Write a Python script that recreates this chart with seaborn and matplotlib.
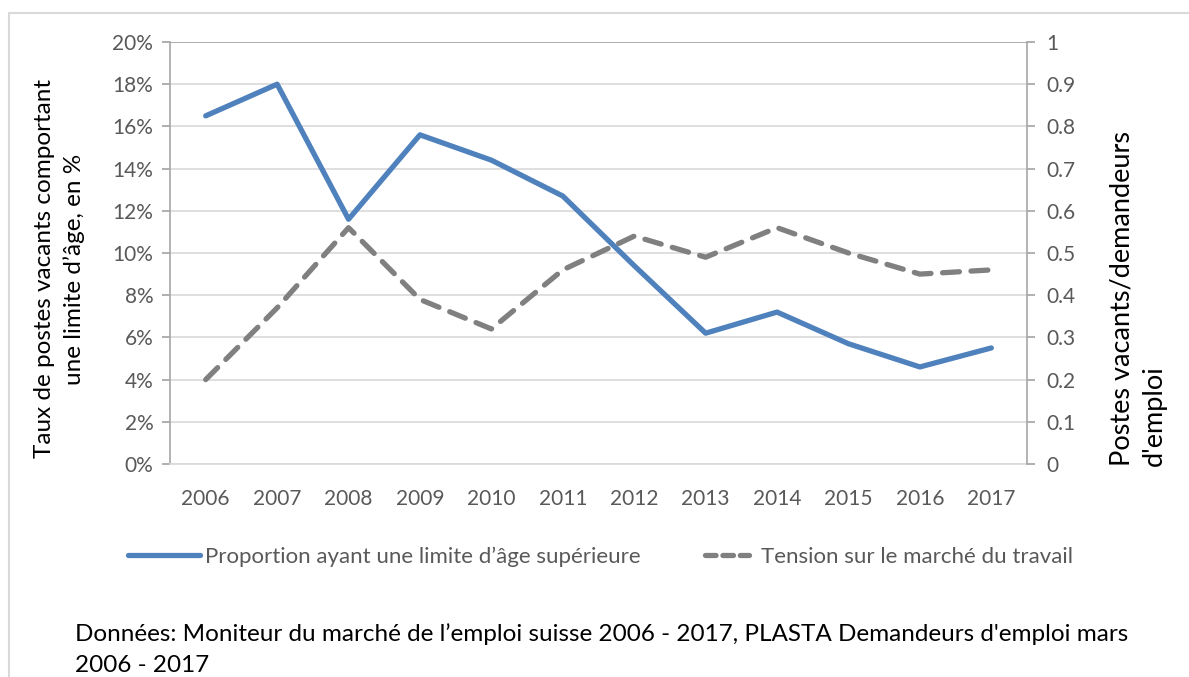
import pandas as pd
import seaborn as sns
from matplotlib import pyplot as plt
from matplotlib.ticker import PercentFormatter, MultipleLocator
from matplotlib.patches import Rectangle

years = ["2006", "2007", "2008", "2009", "2010", "2011",
         "2012", "2013", "2014", "2015", "2016", "2017"]
proportion = [16.5, 18.0, 11.6, 15.6, 14.4, 12.7, 9.4, 6.2, 7.2, 5.7, 4.6, 5.5]
tension = [0.20, 0.37, 0.56, 0.39, 0.32, 0.46, 0.54, 0.49, 0.56, 0.50, 0.45, 0.46]
right_ticks = [0, 0.1, 0.2, 0.3, 0.4, 0.5, 0.6, 0.7, 0.8, 0.9, 1.0]
right_labels = ["0", "0.1", "0.2", "0.3", "0.4", "0.5", "0.6", "0.7", "0.8", "0.9", "1"]

blue = "#4F81BD"
grey = "#808080"
tick_col = "#595959"

sns.set_theme(style="white")
plt.rcParams["font.family"] = ["Lato", "DejaVu Sans"]

df = pd.DataFrame({"year": years, "proportion": proportion, "tension": tension})

fig = plt.figure(figsize=(11.89, 6.77), dpi=100)
ax = fig.add_axes([170 / 1189, 1 - 464 / 677, 857 / 1189, 422 / 677])
ax2 = ax.twinx()

sns.lineplot(data=df, x="year", y="proportion", ax=ax, color=blue, lw=3.8,
             solid_capstyle="round", sort=False,
             label="Proportion ayant une limite d\u2019\u00e2ge sup\u00e9rieure", legend=False)
sns.lineplot(data=df, x="year", y="tension", ax=ax2, color=grey, lw=3.8,
             dashes=False, sort=False, legend=False,
             label="Tension sur le march\u00e9 du travail")
ax2.lines[0].set_linestyle((0, (3.2, 2.2)))
ax2.lines[0].set_dash_capstyle("round")

ax.set_xlim(-0.5, 11.5)
ax.set_ylim(0, 20)
ax2.set_ylim(0, 1)
ax.yaxis.set_major_locator(MultipleLocator(2))
ax.yaxis.set_major_formatter(PercentFormatter(decimals=0))
ax2.set_yticks(right_ticks)
ax2.set_yticklabels(right_labels)

ax.grid(axis="y", color="#D9D9D9", lw=1.2)
ax.set_axisbelow(True)
for a in (ax, ax2):
    for s in a.spines.values():
        s.set_visible(False)
ax.spines["left"].set_visible(True)
ax.spines["bottom"].set_visible(True)
ax2.spines["right"].set_visible(True)
ax.spines["left"].set_color("#A6A6A6")
ax.spines["bottom"].set_color("#D9D9D9")
ax2.spines["right"].set_color("#A6A6A6")
ax.spines["left"].set_linewidth(1.2)
ax.spines["bottom"].set_linewidth(1.2)
ax2.spines["right"].set_linewidth(1.2)

ax.tick_params(axis="y", left=True, length=6, color="#A6A6A6", labelsize=15,
               labelcolor=tick_col, pad=6)
ax.tick_params(axis="x", bottom=False, labelsize=15, labelcolor=tick_col, pad=12)
ax2.tick_params(axis="y", right=True, length=6, color="#A6A6A6", labelsize=15,
                labelcolor=tick_col, pad=8)
ax.axhline(20, color="#A6A6A6", lw=1.2)

ax.set_xlabel("")
ax.set_ylabel("Taux de postes vacants comportant\nune limite d\u2019\u00e2ge, en %",
              fontsize=17.5, color="black", labelpad=20, linespacing=1.45)
ax.yaxis.label.set_y((1 - 269 / 677 - (1 - 464 / 677)) / (422 / 677))
ax2.set_ylabel("")
fig.text(1138 / 1189, 1 - 466 / 677, "Postes vacants/demandeurs\nd'emploi",
         fontsize=19.5, color="black", rotation=90, ha="center", va="bottom",
         multialignment="left", linespacing=1.35)

h1, l1 = ax.get_legend_handles_labels()
h2, l2 = ax2.get_legend_handles_labels()
leg1 = fig.legend(h1, l1, loc="center left", bbox_to_anchor=(108 / 1189, 1 - 557 / 677),
                  frameon=False, fontsize=16, handlelength=3.25, handletextpad=0.2)
leg2 = fig.legend(h2, l2, loc="center left", bbox_to_anchor=(685 / 1189, 1 - 557 / 677),
                  frameon=False, fontsize=16, handlelength=2.0, handletextpad=0.5)
for leg in (leg1, leg2):
    for t in leg.get_texts():
        t.set_color(tick_col)
for hl in leg2.get_lines():
    hl.set_linestyle((0, (2.0, 1.3)))
    hl.set_dash_capstyle("round")

fig.text(75 / 1189, 1 - 634 / 677,
         "Donn\u00e9es: Moniteur du march\u00e9 de l\u2019emploi suisse 2006 - 2017, "
         "PLASTA Demandeurs d'emploi mars", fontsize=17.5, color="black", va="center")
fig.text(75 / 1189, 1 - 665 / 677, "2006 - 2017", fontsize=17.5, color="black", va="center")

fig.patches.append(Rectangle((9 / 1189, -0.1), 1.2, 1.1 - 13 / 677, transform=fig.transFigure,
                             fill=False, edgecolor="#D9D9D9", lw=1.5))

plt.savefig("out.png", dpi=100)
